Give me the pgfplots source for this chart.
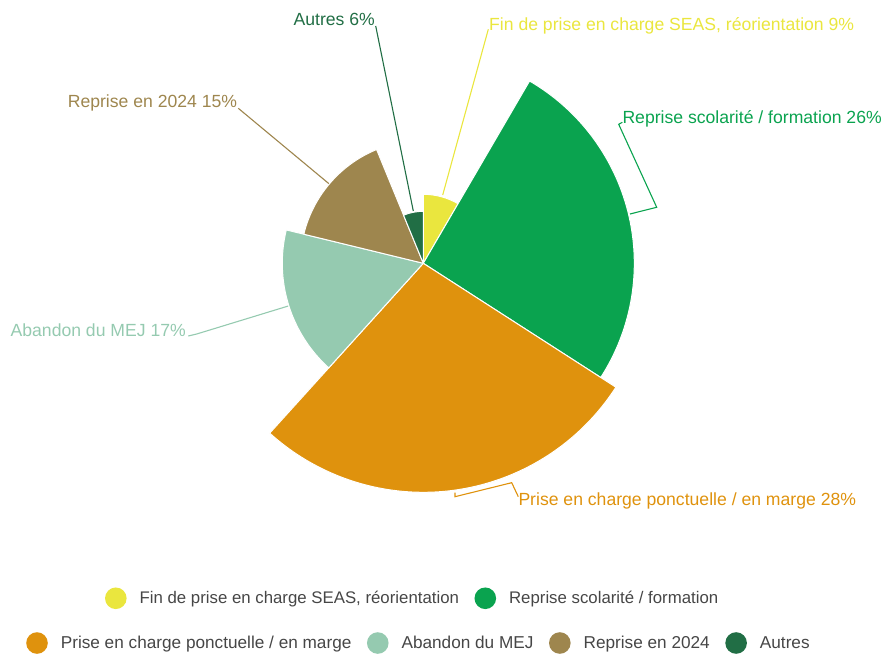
\documentclass[border=0pt]{standalone}
\usepackage{fontspec}
\setmainfont{Liberation Sans}
\usepackage{pgfplots}
\usepackage{pgfplotstable}
\pgfplotsset{compat=1.18}

\definecolor{cFin}{HTML}{EAE63E}
\definecolor{cScol}{HTML}{0AA34F}
\definecolor{cPrise}{HTML}{DF920D}
\definecolor{cAband}{HTML}{95CAB0}
\definecolor{cRep}{HTML}{9E864E}
\definecolor{cAutres}{HTML}{216E45}
\definecolor{cLeg}{HTML}{464646}
% sector colours in drawing order
\colorlet{cS0}{cFin}
\colorlet{cS1}{cScol}
\colorlet{cS2}{cPrise}
\colorlet{cS3}{cAband}
\colorlet{cS4}{cRep}
\colorlet{cS5}{cAutres}

% sectors clockwise from 12 o'clock: share of the circle (%) and radius (px)
\pgfplotstableread{
x y share r
423.3 390.7 8.4 69
423.3 390.7 25.7 211
423.3 390.7 27.6 229
423.3 390.7 17.1 141
423.3 390.7 15.0 123
423.3 390.7 6.2 52
}\sectors

\newcommand\lab{\fontsize{17.6}{21}\selectfont}
\newcommand\legA{\fontsize{16.8}{20}\selectfont}
\newcommand\legB{\fontsize{17.2}{20}\selectfont}
\pgfdeclareplotmark{nothing}{}
\gdef\cumshare{0}
\gdef\secidx{0}

\pgfplotsset{
  canvas/.style={
    x=1pt, y=1pt, xmin=0, xmax=893, ymin=0, ymax=654,
    axis line style={draw=none}, ticks=none, clip=false,
    legend columns=-1, legend cell align=left,
    legend image code/.code={\fill[##1, draw=none] (10.8pt,0pt) circle (10.8pt);},
    legend style={draw=none, fill=none, inner sep=0pt, outer sep=0pt,
      text=cLeg, nodes={inner sep=0pt},
      /tikz/every odd column/.append style={column sep=13pt},
      /tikz/every even column/.append style={column sep=15.5pt}},
  },
}

\begin{document}
\begin{tikzpicture}
\begin{axis}[canvas, legend style={at={(axis description cs:0.02934,0.01682)}, anchor=west, font=\legB}]
\addplot[forget plot, scatter, only marks, mark=nothing, point meta=\coordindex,
  visualization depends on={\thisrow{share} \as \sshare},
  visualization depends on={\thisrow{r} \as \srad},
  scatter/@pre marker code/.code={%
    \begingroup
    \pgfkeys{/pgf/fpu=false}%
    \pgfmathsetmacro\aone{90-3.6*\cumshare}%
    \pgfmathsetmacro\atwo{\aone-3.6*\sshare}%
    \fill[fill=cS\secidx, draw=white, line width=1pt, line join=round]
      (0pt,0pt) -- (\aone:\srad pt) arc[start angle=\aone, end angle=\atwo, radius=\srad pt] -- cycle;
    \pgfmathsetmacro\tmp{\cumshare+\sshare}%
    \xdef\cumshare{\tmp}%
    \pgfmathtruncatemacro\tmp{\secidx+1}%
    \xdef\secidx{\tmp}%
    \endgroup
  },
  scatter/@post marker code/.code={},
] table[x=x, y=y] {\sectors};

% leader lines
\addplot[forget plot, cFin, line width=1.1pt] coordinates {(442.7,459) (488.3,624.7)};
\addplot[forget plot, cScol, line width=1.1pt] coordinates {(630,440) (656.7,446.7) (618.7,529.7) (622.3,531.7)};
\addplot[forget plot, cPrise, line width=1.1pt] coordinates {(455,161.3) (455,157.3) (511.7,171.3) (518.3,157.3)};
\addplot[forget plot, cAband, line width=1.1pt] coordinates {(288.3,348) (196.7,320) (188.3,318)};
\addplot[forget plot, cRep, line width=1.1pt] coordinates {(329.3,470) (238.3,545.7)};
\addplot[forget plot, cAutres, line width=1.1pt] coordinates {(413.3,443) (375.7,628)};

\node[anchor=base west, inner sep=0pt, text=cFin, font=\lab] at (axis cs:489,623.3) {Fin de prise en charge SEAS, réorientation 9\%};
\node[anchor=base west, inner sep=0pt, text=cScol, font=\lab] at (axis cs:622.3,530.7) {Reprise scolarité / formation 26\%};
\node[anchor=base west, inner sep=0pt, text=cPrise, font=\lab] at (axis cs:518.3,149) {Prise en charge ponctuelle / en marge 28\%};
\node[anchor=base east, inner sep=0pt, text=cAband, font=\lab] at (axis cs:186,317.3) {Abandon du MEJ 17\%};
\node[anchor=base east, inner sep=0pt, text=cRep, font=\lab] at (axis cs:237.3,546.7) {Reprise en 2024 15\%};
\node[anchor=base east, inner sep=0pt, text=cAutres, font=\lab] at (axis cs:375,628) {Autres 6\%};

\addlegendimage{fill=cPrise}\addlegendentry{Prise en charge ponctuelle / en marge}
\addlegendimage{fill=cAband}\addlegendentry{Abandon du MEJ}
\addlegendimage{fill=cRep}\addlegendentry{Reprise en 2024}
\addlegendimage{fill=cAutres}\addlegendentry{Autres}
\end{axis}

\begin{axis}[canvas, legend style={at={(axis description cs:0.1176,0.0852)}, anchor=west, font=\legA}]
\addlegendimage{fill=cFin}\addlegendentry{Fin de prise en charge SEAS, réorientation}
\addlegendimage{fill=cScol}\addlegendentry{Reprise scolarité / formation}
\end{axis}
\end{tikzpicture}
\end{document}
